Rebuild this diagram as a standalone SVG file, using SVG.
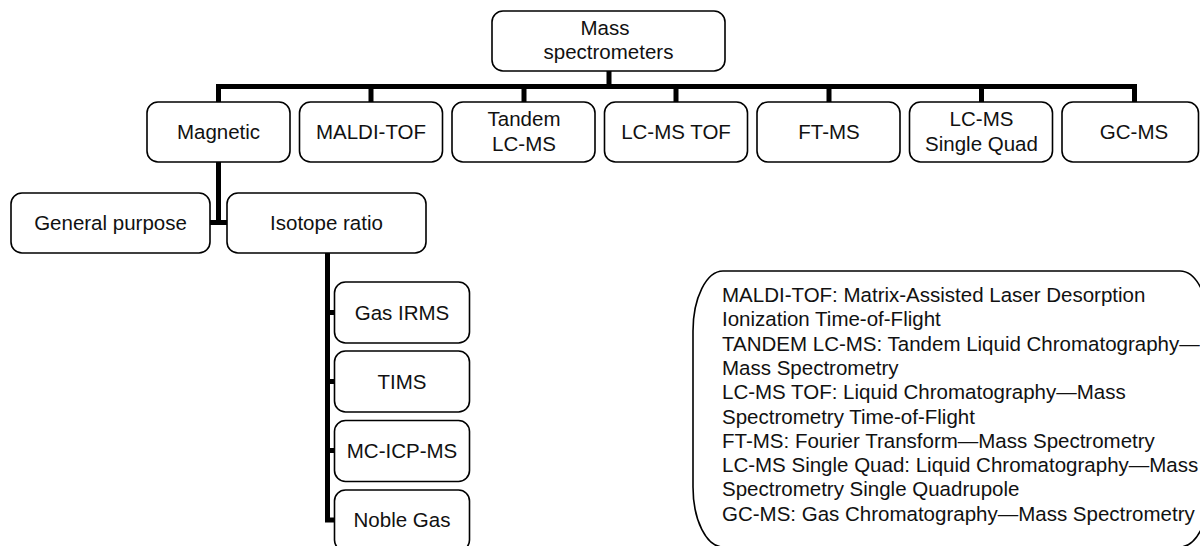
<svg xmlns="http://www.w3.org/2000/svg" width="1200" height="546" viewBox="0 0 1200 546">
<style>
.box{fill:#fff;stroke:#000;stroke-width:1.6}
.t{font-family:"Liberation Sans",Arial,sans-serif;font-size:20.5px;fill:#111;text-anchor:middle}
.lg{font-family:"Liberation Sans",Arial,sans-serif;font-size:20.5px;fill:#111}
.c{fill:none;stroke:#000;stroke-width:5;stroke-linecap:square;stroke-linejoin:miter}
</style>
<rect width="1200" height="546" fill="#fff"/>
<g id="connectors">
<path class="c" d="M609 72 V86.5 M218.5 86.5 H1134.5 M218.5 86.5 V101 M371 86.5 V101 M524 86.5 V101 M676 86.5 V101 M829 86.5 V101 M981.5 86.5 V101 M1134.5 86.5 V101"/>
<path class="c" d="M218.5 163 V222.5 M212 222.5 H225"/>
<path class="c" d="M327.5 254 V520 H333 M327.5 312.5 H333 M327.5 381.5 H333 M327.5 450.5 H333"/>
</g>
<g id="root"><rect class="box" x="492" y="11" width="233" height="60" rx="11"/><text class="t" x="605" y="35">Mass</text><text class="t" x="608.5" y="58.5">spectrometers</text></g>
<g id="magnetic"><rect class="box" x="147" y="102" width="143" height="60" rx="11"/><text class="t" x="218.5" y="138.5">Magnetic</text></g>
<g id="maldi"><rect class="box" x="299.5" y="102" width="143" height="60" rx="11"/><text class="t" x="371" y="138.5">MALDI-TOF</text></g>
<g id="tandem"><rect class="box" x="452" y="102" width="143" height="60" rx="11"/><text class="t" x="524" y="126">Tandem</text><text class="t" x="524" y="150.5">LC-MS</text></g>
<g id="lcmstof"><rect class="box" x="604.5" y="102" width="143" height="60" rx="11"/><text class="t" x="676" y="138.5">LC-MS TOF</text></g>
<g id="ftms"><rect class="box" x="757" y="102" width="143" height="60" rx="11"/><text class="t" x="829" y="138.5">FT-MS</text></g>
<g id="lcmssq"><rect class="box" x="909.5" y="102" width="143" height="60" rx="11"/><text class="t" x="981.5" y="126">LC-MS</text><text class="t" x="981.5" y="150.5">Single Quad</text></g>
<g id="gcms"><rect class="box" x="1062" y="102" width="136.5" height="60" rx="11"/><text class="t" x="1134" y="138.5">GC-MS</text></g>
<g id="general"><rect class="box" x="11" y="193" width="199" height="60" rx="11"/><text class="t" x="110.5" y="229.5">General purpose</text></g>
<g id="isotope"><rect class="box" x="227" y="193" width="199" height="60" rx="11"/><text class="t" x="326.5" y="229.5">Isotope ratio</text></g>
<g id="gasirms"><rect class="box" x="334.5" y="282" width="135" height="61" rx="11"/><text class="t" x="402" y="319.5">Gas IRMS</text></g>
<g id="tims"><rect class="box" x="334.5" y="351" width="135" height="61" rx="11"/><text class="t" x="402" y="388.5">TIMS</text></g>
<g id="mcicpms"><rect class="box" x="334.5" y="420.5" width="135" height="61" rx="11"/><text class="t" x="402" y="457.5">MC-ICP-MS</text></g>
<g id="noblegas"><rect class="box" x="334.5" y="490" width="135" height="61" rx="11"/><text class="t" x="402" y="527">Noble Gas</text></g>
<g id="legend">
<rect class="box" x="693" y="271" width="517" height="276" rx="30" ry="60"/>
<text class="lg" x="722" y="302">MALDI-TOF: Matrix-Assisted Laser Desorption</text>
<text class="lg" x="722" y="326.3">Ionization Time-of-Flight</text>
<text class="lg" x="722" y="350.6">TANDEM LC-MS: Tandem Liquid Chromatography—</text>
<text class="lg" x="722" y="374.9">Mass Spectrometry</text>
<text class="lg" x="722" y="399.2">LC-MS TOF: Liquid Chromatography—Mass</text>
<text class="lg" x="722" y="423.5">Spectrometry Time-of-Flight</text>
<text class="lg" x="722" y="447.8">FT-MS: Fourier Transform—Mass Spectrometry</text>
<text class="lg" x="722" y="472.1">LC-MS Single Quad: Liquid Chromatography—Mass</text>
<text class="lg" x="722" y="496.4">Spectrometry Single Quadrupole</text>
<text class="lg" x="722" y="520.7">GC-MS: Gas Chromatography—Mass Spectrometry</text>
</g>
</svg>
